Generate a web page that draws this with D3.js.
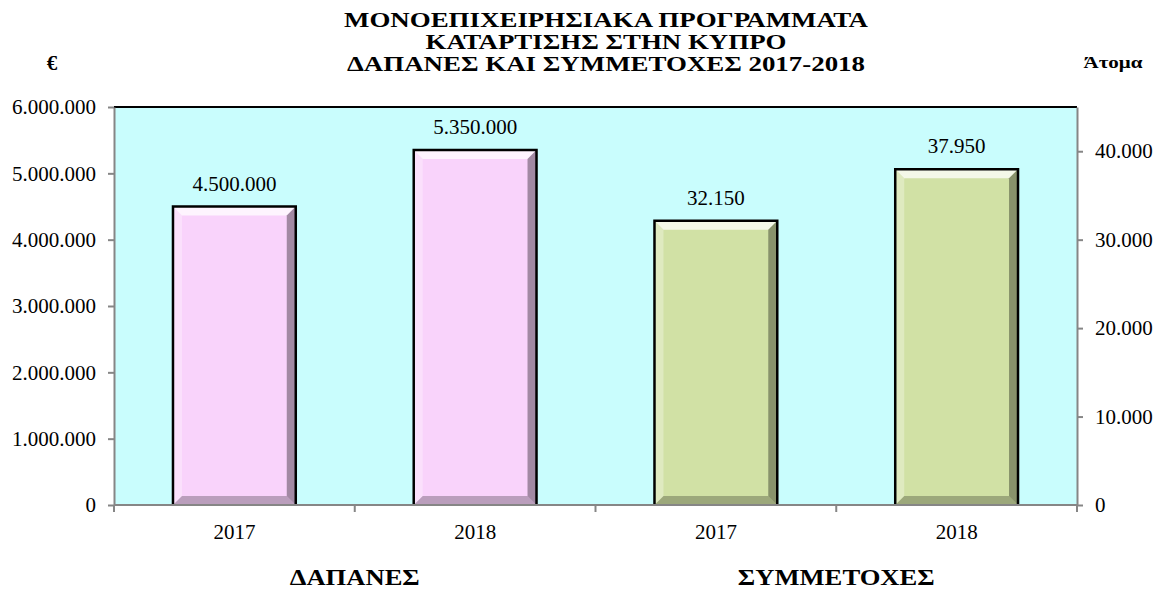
<!DOCTYPE html>
<html lang="el">
<head>
  <meta charset="UTF-8">
  <title>Μονοεπιχειρησιακά προγράμματα</title>
  <script src="https://unpkg.com/d3@7/dist/d3.min.js"></script>
  <style>
    body { margin: 0; background: #fff; }
    svg text { font-family: "Liberation Serif", "Times New Roman", serif; fill: #000; }
  </style>
</head>
<body>
  <svg id="chart" width="1159" height="594"></svg>
  <script>
    // data
    const groups = ['ΔΑΠΑΝΕΣ', 'ΣΥΜΜΕΤΟΧΕΣ'];
    const years = ['2017', '2018'];
    const spending = [4500000, 5350000];      // € (left axis)
    const participants = [32150, 37950];      // persons (right axis)
    const leftTicks = [0, 1000000, 2000000, 3000000, 4000000, 5000000, 6000000];
    const rightTicks = [0, 10000, 20000, 30000, 40000];
    const titleLines = ['ΜΟΝΟΕΠΙΧΕΙΡΗΣΙΑΚΑ ΠΡΟΓΡΑΜΜΑΤΑ', 'ΚΑΤΑΡΤΙΣΗΣ ΣΤΗΝ ΚΥΠΡΟ', 'ΔΑΠΑΝΕΣ ΚΑΙ ΣΥΜΜΕΤΟΧΕΣ 2017-2018'];

    const bars = [
      ...years.map((y, i) => ({ key: groups[0] + y, group: groups[0], year: y, value: spending[i], axis: 'left', fill: '#f9d3fb' })),
      ...years.map((y, i) => ({ key: groups[1] + y, group: groups[1], year: y, value: participants[i], axis: 'right', fill: '#d1e1a5' }))
    ];

    const svg = d3.select('#chart');
    const width = +svg.attr('width'), height = +svg.attr('height');
    const margin = { top: 107, left: 114, right: 82, bottom: 89 };
    const innerW = width - margin.left - margin.right,
          innerH = height - margin.top - margin.bottom;

    const fmt = d3.formatLocale({ decimal: ',', thousands: '.', grouping: [3], currency: ['', '€'] }).format(',d');

    const x = d3.scaleBand().domain(bars.map(d => d.key)).range([0, innerW]);
    const xGroup = d3.scaleBand().domain(groups).range([0, innerW]);
    const yLeft = d3.scaleLinear().domain([0, 6000000]).range([innerH, 0]);
    const yRight = d3.scaleLinear().domain([0, 45000]).range([innerH, 0]);
    const yFor = d => d.axis === 'left' ? yLeft : yRight;

    const g = svg.append('g').attr('transform', `translate(${margin.left},${margin.top})`);

    // plot area
    g.append('rect')
      .attr('width', innerW).attr('height', innerH)
      .attr('fill', '#c9fdfd');
    g.append('line')
      .attr('x1', 0).attr('x2', innerW).attr('y1', 0).attr('y2', 0)
      .attr('stroke', '#000').attr('stroke-width', 2);

    // bars with a bevel
    const barW = x.bandwidth() * 0.51, b = 9;
    const barG = g.selectAll('.bar').data(bars).join('g').attr('class', 'bar');
    barG.each(function (d) {
      const sel = d3.select(this);
      const x0 = x(d.key) + (x.bandwidth() - barW) / 2, x1 = x0 + barW;
      const y0 = yFor(d)(d.value), y1 = yFor(d)(0);
      sel.append('rect')
        .attr('x', x0).attr('y', y0).attr('width', barW).attr('height', y1 - y0)
        .attr('fill', d.fill);
      const poly = (pts, fill, op) => sel.append('polygon')
        .attr('points', pts.map(p => p.join(',')).join(' '))
        .attr('fill', fill).attr('fill-opacity', op);
      poly([[x0, y0], [x1, y0], [x1 - b, y0 + b], [x0 + b, y0 + b]], '#fff', 0.75);
      poly([[x0, y0], [x0 + b, y0 + b], [x0 + b, y1 - b], [x0, y1]], '#fff', 0.3);
      poly([[x1, y0], [x1, y1], [x1 - b, y1 - b], [x1 - b, y0 + b]], '#000', 0.35);
      poly([[x0, y1], [x0 + b, y1 - b], [x1 - b, y1 - b], [x1, y1]], '#000', 0.25);
      sel.append('path')
        .attr('d', `M${x0},${y1}V${y0}H${x1}V${y1}`)
        .attr('fill', 'none').attr('stroke', '#000').attr('stroke-width', 2.5);
      sel.append('text')
        .attr('x', (x0 + x1) / 2).attr('y', y0 - 16)
        .attr('text-anchor', 'middle').attr('font-size', 21)
        .text(fmt(d.value));
    });

    // axes
    const styleAxis = sel => {
      sel.attr('font-family', null);
      sel.select('.domain').attr('stroke', '#868686').attr('stroke-width', 2);
      sel.selectAll('.tick line').attr('stroke', '#868686').attr('stroke-width', 2);
      sel.selectAll('.tick text').attr('font-size', 21);
    };

    g.append('g')
      .call(d3.axisLeft(yLeft).tickValues(leftTicks).tickFormat(fmt).tickSize(6).tickPadding(12).tickSizeOuter(0))
      .call(styleAxis);

    g.append('g')
      .attr('transform', `translate(${innerW},0)`)
      .call(d3.axisRight(yRight).tickValues(rightTicks).tickFormat(fmt).tickSize(6).tickPadding(12).tickSizeOuter(0))
      .call(styleAxis);

    // x axis: ticks on the band boundaries, year labels under the bands
    const xAxisG = g.append('g').attr('transform', `translate(0,${innerH})`);
    xAxisG.append('line')
      .attr('x1', 0).attr('x2', innerW)
      .attr('stroke', '#868686').attr('stroke-width', 2);
    xAxisG.selectAll('.xtick').data(bars.map(d => x(d.key)).concat([innerW]))
      .join('line').attr('class', 'xtick')
      .attr('x1', d => d).attr('x2', d => d).attr('y1', 0).attr('y2', 7)
      .attr('stroke', '#868686').attr('stroke-width', 2);
    xAxisG.selectAll('.xlabel').data(bars)
      .join('text').attr('class', 'xlabel')
      .attr('x', d => x(d.key) + x.bandwidth() / 2).attr('y', 34)
      .attr('text-anchor', 'middle').attr('font-size', 21)
      .text(d => d.year);

    // group labels, centred under each pair of bars
    const groupWidths = [130, 197];
    xAxisG.selectAll('.group').data(groups)
      .join('text').attr('class', 'group')
      .attr('x', d => xGroup(d) + xGroup.bandwidth() / 2).attr('y', 80)
      .attr('text-anchor', 'middle').attr('font-size', 23).attr('font-weight', 'bold')
      .attr('textLength', (d, i) => groupWidths[i]).attr('lengthAdjust', 'spacingAndGlyphs')
      .text(d => d);

    // title
    const titleWidths = [524, 361, 518];
    svg.selectAll('.title').data(titleLines)
      .join('text').attr('class', 'title')
      .attr('x', 606).attr('y', (d, i) => 27 + i * 22)
      .attr('text-anchor', 'middle').attr('font-size', 21).attr('font-weight', 'bold')
      .attr('textLength', (d, i) => titleWidths[i]).attr('lengthAdjust', 'spacingAndGlyphs')
      .text(d => d);

    // axis units
    svg.append('text').attr('x', 52).attr('y', 70)
      .attr('text-anchor', 'middle').attr('font-size', 21).attr('font-weight', 'bold').text('€');
    svg.append('text').attr('x', 1113).attr('y', 68)
      .attr('text-anchor', 'middle').attr('font-size', 17).attr('font-weight', 'bold')
      .attr('textLength', 59).attr('lengthAdjust', 'spacingAndGlyphs').text('Άτομα');
  </script>
</body>
</html>
